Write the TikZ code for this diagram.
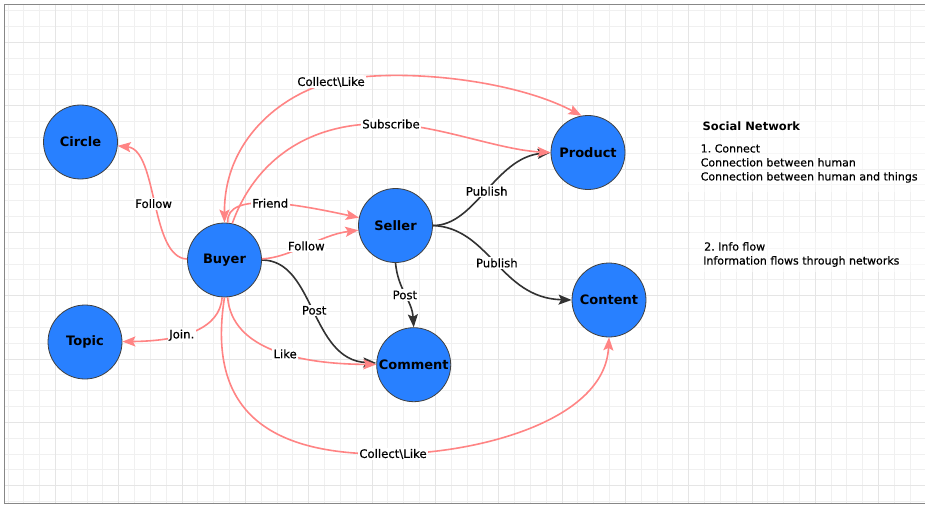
\documentclass[tikz,border=0pt]{standalone}
\usepackage{fontspec}
\setmainfont{DejaVu Sans}
\newfontfamily\labelfont{DejaVu Sans}[FakeBold=0.5]
\usetikzlibrary{arrows.meta}
\frenchspacing

\definecolor{nodeblue}{RGB}{40,128,255}
\definecolor{edgepink}{RGB}{255,132,132}
\definecolor{edgedark}{RGB}{50,50,50}
\definecolor{gridminor}{RGB}{240,240,240}
\definecolor{gridmajor}{RGB}{229,229,229}
\definecolor{framegray}{RGB}{135,135,135}

\begin{document}
\begin{tikzpicture}[x=1pt,y=-1pt,
  >={Stealth[length=13pt,width=10pt,inset=2.5pt]},
  entity/.style={circle, draw=black!75, line width=0.8pt, fill=nodeblue,
    minimum size=74pt, inner sep=0pt, font=\fontsize{13}{15}\selectfont\bfseries},
  rel/.style={line width=1.6pt, draw=edgepink, fill=none, ->},
  act/.style={line width=1.6pt, draw=edgedark, fill=none, ->},
  lbl/.style={fill=white, inner sep=1.5pt, text=black, font=\labelfont\fontsize{11.7}{13}\selectfont},
  note/.style={anchor=west, align=left, inner sep=0pt, text=black, font=\labelfont\fontsize{11}{14}\selectfont}
]
% canvas
\useasboundingbox (0,0) rectangle (925,505);
\fill[white] (0,0) rectangle (925,505);

% grid paper, lines snapped to whole pixels
\foreach \i in {0,...,57}{
  \pgfmathsetmacro\gx{round(7.5+\i*15.83)+0.5}
  \draw[gridminor, line width=1.3pt] (\gx,4) -- (\gx,504);}
\foreach \j in {0,...,31}{
  \pgfmathsetmacro\gy{round(10.3+\j*15.83)+0.5}
  \draw[gridminor, line width=1.3pt] (4,\gy) -- (925,\gy);}
\foreach \i in {0,...,13}{
  \pgfmathsetmacro\gx{round(55+\i*63.33)+0.5}
  \draw[gridmajor, line width=1.8pt] (\gx,4) -- (\gx,504);}
\foreach \j in {0,...,7}{
  \pgfmathsetmacro\gy{round(42+\j*63.33)+0.5}
  \draw[gridmajor, line width=1.8pt] (4,\gy) -- (925,\gy);}

% faded panels behind the notes
\fill[white, opacity=0.5] (688,110) rectangle (925,192);
\fill[white, opacity=0.5] (690,232) rectangle (925,272);

% frame
\draw[framegray, line width=1pt] (4.5,503.5) -- (4.5,4.5) -- (925,4.5);
\draw[framegray, line width=1pt] (4.5,503.5) -- (925,503.5);

% entities
\node[entity] (circ)    at (80.5,142)   {Circle};
\node[entity] (topic)   at (85,342)     {Topic};
\node[entity] (buyer)   at (224.5,260)  {Buyer};
\node[entity] (seller)  at (395.5,225.5){Seller};
\node[entity] (product) at (588,152.5)  {Product};
\node[entity] (content) at (609,300)    {Content};
\node[entity] (comment) at (413.7,364.7){Comment};

% seller actions
\draw[act] (seller.east) .. controls (475,226) and (495,158) .. node[lbl]{Publish} (product.west);
\draw[act] (seller.east) .. controls (490,228) and (500,298) .. node[lbl]{Publish} (content.west);
\draw[act] (seller.south) .. controls (398,290) and (412,300) .. node[lbl]{Post} (comment.north);

% buyer actions
\draw[act] (buyer) .. controls (315,260) and (310,360) .. node[lbl]{Post} (comment);
\draw[rel] (buyer) .. controls (150,258) and (158,150) .. node[lbl]{Follow} (circ);
\draw[rel] (buyer) .. controls (220,330) and (180,341) .. node[lbl,pos=0.6]{Join.} (topic);
\draw[rel] (buyer) .. controls (232,350) and (300,364) .. node[lbl,pos=0.56]{Like} (comment);
\draw[rel] (buyer) .. controls (290,258) and (320,235) .. node[lbl]{Follow} (seller);
\draw[rel] (buyer.85) .. controls (225,190) and (300,205) .. node[lbl]{Friend} (seller);
\draw[rel] (buyer.78) .. controls (255,160) and (310,120) .. (391,124)
  node[lbl]{Subscribe} .. controls (440,126) and (500,150) .. (product.west);
\draw[rel,<->] (buyer.north) .. controls (224,140) and (281,95) .. (331,82)
  node[lbl]{Collect\textbackslash Like} .. controls (391,67) and (510,78) .. (product.100);
\draw[rel] (buyer.south) .. controls (205,420) and (280,456) .. (393,454)
  node[lbl]{Collect\textbackslash Like} .. controls (480,453) and (605,420) .. (content.south);

% notes
\node[note, font=\fontsize{11.5}{14}\selectfont\bfseries] (title) at (702.5,126) {Social Network};
\node[note] (connect) at (700.5,163.5) {1. Connect\\Connection between human\\Connection between human and things};
\node[note] (flow) at (703,254.5) {\hspace*{1pt}2. Info flow\\Information flows through networks};
\end{tikzpicture}
\end{document}
